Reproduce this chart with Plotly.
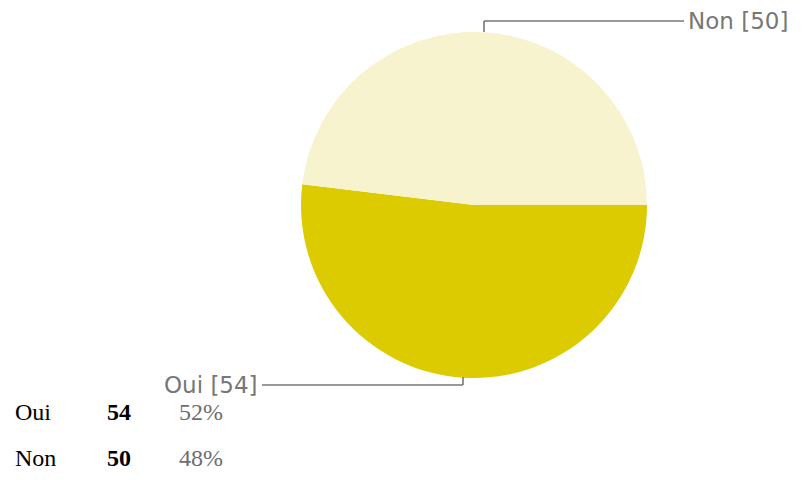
import plotly.graph_objects as go

# Survey answers
categories = ["Oui", "Non"]
counts = [54, 50]
colors = ["#dccb00", "#f8f3cf"]

W, H = 803, 483


def px(x):
    return x / W


def py(y):
    return 1 - y / H


total = sum(counts)
percents = [round(100 * c / total) for c in counts]

fig = go.Figure(
    go.Pie(
        labels=categories,
        values=counts,
        marker=dict(colors=colors, line=dict(width=0)),
        sort=False,
        direction="clockwise",
        rotation=90,
        textinfo="none",
        hoverinfo="label+value+percent",
        showlegend=False,
        domain=dict(x=[px(301), px(647)], y=[py(378), py(32)]),
    )
)

line_style = dict(color="#777777", width=1.6)
label_font = dict(family="DejaVu Sans", size=23, color="#777777")

# Leader line and label for "Non"
fig.add_shape(type="line", xref="paper", yref="paper",
              x0=px(484), y0=py(32), x1=px(484), y1=py(21), line=line_style)
fig.add_shape(type="line", xref="paper", yref="paper",
              x0=px(484), y0=py(21), x1=px(684), y1=py(21), line=line_style)
fig.add_annotation(xref="paper", yref="paper", x=px(686), y=py(21),
                   xanchor="left", yanchor="middle", showarrow=False,
                   text=f"{categories[1]} [{counts[1]}]", font=label_font)

# Leader line and label for "Oui"
fig.add_shape(type="line", xref="paper", yref="paper",
              x0=px(463), y0=py(377), x1=px(463), y1=py(385), line=line_style)
fig.add_shape(type="line", xref="paper", yref="paper",
              x0=px(463), y0=py(385), x1=px(262), y1=py(385), line=line_style)
fig.add_annotation(xref="paper", yref="paper", x=px(260), y=py(385),
                   xanchor="right", yanchor="middle", showarrow=False,
                   text=f"{categories[0]} [{counts[0]}]", font=label_font)

# Summary table below the chart
row_y = [412, 458]
table_size = 24
for name, count, pct, y in zip(categories, counts, percents, row_y):
    fig.add_annotation(xref="paper", yref="paper", x=px(13), y=py(y),
                       xanchor="left", yanchor="middle", showarrow=False,
                       text=name,
                       font=dict(family="Liberation Serif", size=table_size, color="#000000"))
    fig.add_annotation(xref="paper", yref="paper", x=px(105), y=py(y),
                       xanchor="left", yanchor="middle", showarrow=False,
                       text=f"<b>{count}</b>",
                       font=dict(family="Liberation Serif", size=table_size, color="#000000"))
    fig.add_annotation(xref="paper", yref="paper", x=px(177), y=py(y),
                       xanchor="left", yanchor="middle", showarrow=False,
                       text=f"{pct}%",
                       font=dict(family="Liberation Serif", size=table_size, color="#6e6e6e"))

fig.update_layout(
    width=W, height=H,
    margin=dict(l=0, r=0, t=0, b=0),
    paper_bgcolor="#ffffff",
    plot_bgcolor="#ffffff",
)

fig.write_html("out.html")
